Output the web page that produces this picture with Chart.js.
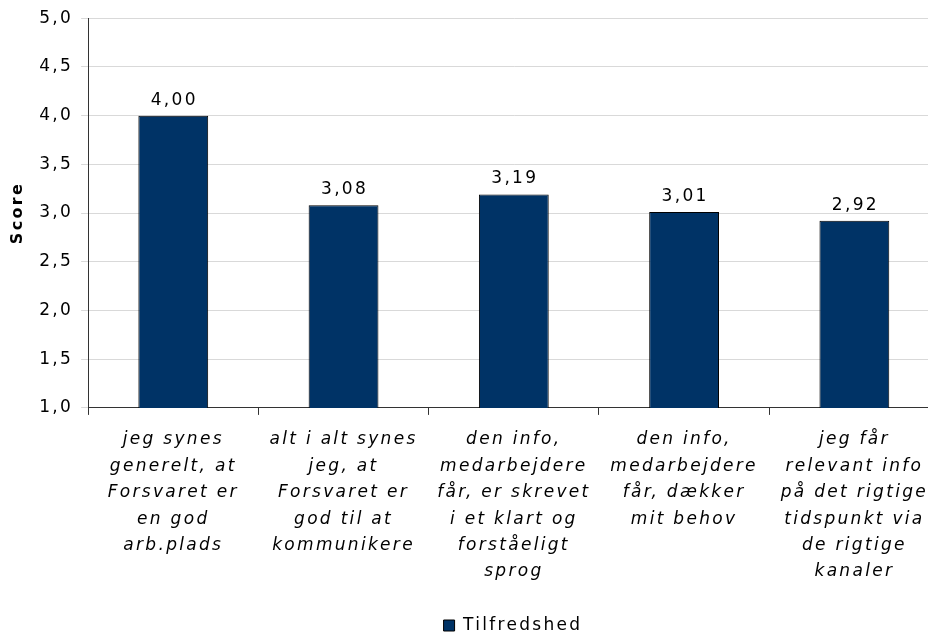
<!DOCTYPE html>
<html>
<head>
<meta charset="utf-8">
<script src="https://cdn.jsdelivr.net/npm/chart.js@4/dist/chart.umd.min.js"></script>
<style>
  html, body { margin: 0; padding: 0; background: #fff; overflow: hidden; }
  #wrap { width: 940px; height: 636px; position: relative; }
</style>
</head>
<body>
<div id="wrap"><canvas id="chart"></canvas></div>
<script>
// Chart data
const categories = [
  ['jeg synes', 'generelt, at', 'Forsvaret er', 'en god', 'arb.plads'],
  ['alt i alt synes', 'jeg, at', 'Forsvaret er', 'god til at', 'kommunikere'],
  ['den info,', 'medarbejdere', 'får, er skrevet', 'i et klart og', 'forståeligt', 'sprog'],
  ['den info,', 'medarbejdere', 'får, dækker', 'mit behov'],
  ['jeg får', 'relevant info', 'på det rigtige', 'tidspunkt via', 'de rigtige', 'kanaler']
];
const scores = [4.00, 3.08, 3.19, 3.01, 2.92];
const seriesName = 'Tilfredshed';
const yTicks = [1.0, 1.5, 2.0, 2.5, 3.0, 3.5, 4.0, 4.5, 5.0];

const fontFamily = '"DejaVu Sans", Verdana, sans-serif';
const spacing = '2.3px';

// wide letter spacing like the original
const letterSpacing = {
  id: 'letterSpacing',
  beforeUpdate(chart) { chart.ctx.letterSpacing = spacing; },
  beforeDraw(chart) { chart.ctx.letterSpacing = spacing; }
};

// legend sits a bit right of centre in the original
const legendShift = {
  id: 'legendShift',
  afterLayout(chart) {
    chart.legend.left += 41;
    chart.legend.right += 41;
  }
};

// Draw value labels above bars
const valueLabels = {
  id: 'valueLabels',
  afterDatasetsDraw(chart) {
    const ctx = chart.ctx;
    const meta = chart.getDatasetMeta(0);
    ctx.save();
    ctx.letterSpacing = spacing;
    ctx.font = '17px ' + fontFamily;
    ctx.fillStyle = '#000';
    ctx.textAlign = 'center';
    ctx.textBaseline = 'bottom';
    meta.data.forEach((bar, i) => {
      ctx.fillText(scores[i].toFixed(2).replace('.', ','), bar.x + 1, bar.y - 7);
    });
    ctx.restore();
  }
};

new Chart(document.getElementById('chart'), {
  type: 'bar',
  data: {
    labels: categories,
    datasets: [{
      label: seriesName,
      data: scores,
      backgroundColor: '#003366',
      borderColor: '#000',
      borderWidth: 1,
      barPercentage: 0.41,
      categoryPercentage: 1.0
    }]
  },
  options: {
    responsive: true,
    maintainAspectRatio: false,
    animation: false,
    layout: { padding: { top: 8, left: 4, right: 0, bottom: -8 } },
    plugins: {
      tooltip: { enabled: false },
      legend: {
        position: 'bottom',
        labels: {
          color: '#000',
          font: { family: fontFamily, size: 17 },
          boxWidth: 11,
          boxHeight: 11,
          padding: 4
        }
      }
    },
    scales: {
      x: {
        afterFit(axis) { axis.height += 16; },
        grid: { drawOnChartArea: false, tickLength: 7, color: '#333' },
        border: { color: '#333' },
        ticks: {
          color: '#000',
          font: { family: fontFamily, size: 17, style: 'italic', lineHeight: 1.55 },
          maxRotation: 0,
          padding: 12
        }
      },
      y: {
        min: 1,
        max: 5,
        afterBuildTicks(axis) { axis.ticks = yTicks.map(v => ({ value: v })); },
        grid: { color: '#d9d9d9', tickLength: 7 },
        border: { color: '#333' },
        ticks: {
          color: '#000',
          font: { family: fontFamily, size: 17 },
          padding: 8,
          callback: v => v.toFixed(1).replace('.', ',')
        },
        title: {
          display: true,
          text: 'Score',
          color: '#000',
          font: { family: fontFamily, size: 16, weight: 'bold' },
          padding: { bottom: 4 }
        }
      }
    }
  },
  plugins: [letterSpacing, legendShift, valueLabels]
});
</script>
</body>
</html>
